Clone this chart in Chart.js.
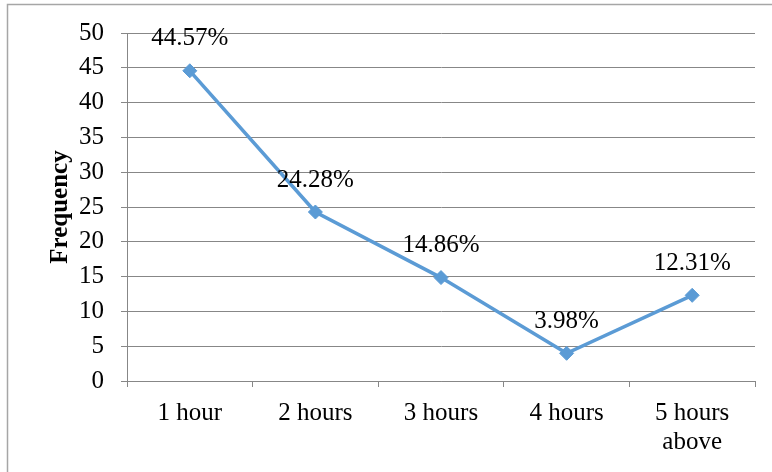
<!DOCTYPE html>
<html><head><meta charset="utf-8">
<script src="https://cdn.jsdelivr.net/npm/chart.js@4"></script>
<style>html,body{margin:0;padding:0;background:#fff}#w{width:772px;height:472px}</style>
</head><body><div id="w"><canvas id="c" width="772" height="472"></canvas></div>
<script>
const categories = ["1 hour", "2 hours", "3 hours", "4 hours", ["5 hours", "above"]];
const frequency = [44.57, 24.28, 14.86, 3.98, 12.31];
const pointLabels = ["44.57%", "24.28%", "14.86%", "3.98%", "12.31%"];
const yTicks = [0, 5, 10, 15, 20, 25, 30, 35, 40, 45, 50];

const FONT = "'Liberation Serif', 'Times New Roman', serif";

const extras = {
  id: 'extras',
  beforeDraw(chart) {
    const ctx = chart.ctx;
    ctx.save();
    ctx.fillStyle = '#fff';
    ctx.fillRect(0, 0, chart.width, chart.height);
    ctx.strokeStyle = '#a6a6a6';
    ctx.lineWidth = 1.5;
    ctx.strokeRect(7.5, 4.5, 800, 500);
    ctx.restore();
  },
  afterDraw(chart) {
    const ctx = chart.ctx;
    const meta = chart.getDatasetMeta(0);
    ctx.save();
    ctx.fillStyle = '#000';
    ctx.font = '25px ' + FONT;
    ctx.textAlign = 'center';
    ctx.textBaseline = 'middle';
    meta.data.forEach((p, i) => {
      ctx.fillText(pointLabels[i], p.x, p.y - 32);
    });
    const a = chart.chartArea;
    ctx.translate(61, (a.top + a.bottom) / 2);
    ctx.rotate(-Math.PI / 2);
    ctx.font = 'bold 25px ' + FONT;
    ctx.fillText('Frequency', 0, 0);
    ctx.restore();
  }
};

new Chart(document.getElementById('c'), {
  type: 'line',
  data: {
    labels: categories,
    datasets: [{
      data: frequency,
      borderColor: '#5b9bd5',
      backgroundColor: '#5b9bd5',
      borderWidth: 3.5,
      pointStyle: 'rectRot',
      pointRadius: 7,
      pointBorderWidth: 1,
      tension: 0,
      fill: false
    }]
  },
  options: {
    responsive: false,
    animation: false,
    events: [],
    layout: { padding: { left: 0, top: 33, right: 17, bottom: 0 } },
    plugins: { legend: { display: false }, tooltip: { enabled: false } },
    scales: {
      x: {
        offset: true,
        grid: { offset: true, drawOnChartArea: false, drawTicks: true, tickLength: 6, color: '#878787', lineWidth: 1 },
        border: { display: true, color: '#878787', width: 1 },
        ticks: { font: { family: FONT, size: 25, lineHeight: 1.15 }, color: '#000', padding: 12, maxRotation: 0, autoSkip: false },
        afterFit(s) { s.height = 91; }
      },
      y: {
        min: 0, max: 50,
        afterBuildTicks(s) { s.ticks = yTicks.map(v => ({ value: v })); },
        grid: { color: '#878787', lineWidth: 1, drawTicks: true, tickLength: 6 },
        border: { display: true, color: '#878787', width: 1 },
        ticks: { font: { family: FONT, size: 25 }, color: '#000', padding: 17 },
        afterFit(s) { s.width = 127; }
      }
    }
  },
  plugins: [extras]
});
</script></body></html>
